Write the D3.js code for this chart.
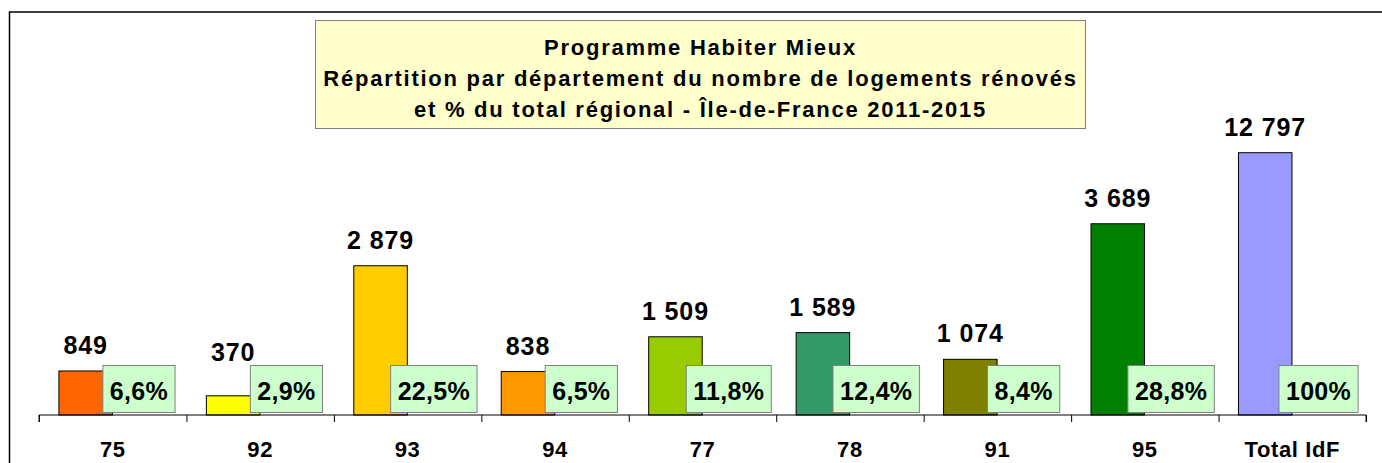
<!DOCTYPE html>
<html>
<head>
<meta charset="utf-8">
<script src="https://cdn.jsdelivr.net/npm/d3@7"></script>
<style>
  body { margin: 0; background: #fff; }
  svg { display: block; font-family: "Liberation Sans", Arial, sans-serif; font-weight: bold; }
</style>
</head>
<body>
<div id="chart"></div>
<script>

/* Data */
/* ---- */

var categories = ['75', '92', '93', '94', '77', '78', '91', '95', 'Total IdF'];
var logements = [849, 370, 2879, 838, 1509, 1589, 1074, 3689, 12797];
var pctLabels = ['6,6%', '2,9%', '22,5%', '6,5%', '11,8%', '12,4%', '8,4%', '28,8%', '100%'];
var barColours = ['#FF6600', '#FFFF00', '#FFCC00', '#FF9900', '#99CC00', '#339966', '#808000', '#008000', '#9999FF'];
var titleLines = [
  'Programme Habiter Mieux',
  'Répartition par département du nombre de logements rénovés',
  'et % du total régional - Île-de-France 2011-2015'
];

var data = categories.map(function(c, i) {
  return { cat: c, value: logements[i], pct: pctLabels[i], colour: barColours[i] };
});

/* Setup */
/* ----- */

var width = 1382, height = 463;
var plot = { left: 39, right: 1366, top: 152.7, bottom: 415 };
var box = { top: 365.5, height: 47 };

var fr = d3.formatLocale({ decimal: ',', thousands: '\u00a0', grouping: [3], currency: ['', ' €'] });
var fmt = fr.format(',d');

var svg = d3.select('#chart').append('svg')
    .attr('width', width)
    .attr('height', height);

// outer chart border (right / bottom edges are off the picture)
svg.append('rect')
    .attr('x', 9.5).attr('y', 12)
    .attr('width', 1400).attr('height', 500)
    .attr('fill', 'none')
    .attr('stroke', '#000')
    .attr('stroke-width', 1.5);

var x = d3.scaleBand().domain(categories).range([plot.left, plot.right]);
var y = d3.scaleLinear().domain([0, 5060]).range([plot.bottom, plot.top]).clamp(true);
var bw = x.bandwidth();

/* Bars */
/* ---- */

svg.append('g').attr('class', 'bars')
  .selectAll('rect')
  .data(data)
  .enter().append('rect')
    .attr('x', function(d) { return x(d.cat) + bw * 0.135; })
    .attr('y', function(d) { return y(d.value); })
    .attr('width', bw * 0.363)
    .attr('height', function(d) { return plot.bottom - y(d.value); })
    .attr('fill', function(d) { return d.colour; })
    .attr('stroke', '#000')
    .attr('stroke-width', 1);

// value labels (kept clear of the percent boxes)
svg.append('g').attr('class', 'values')
  .selectAll('text')
  .data(data)
  .enter().append('text')
    .attr('x', function(d) { return x(d.cat) + bw * 0.135 + bw * 0.363 / 2; })
    .attr('y', function(d) { return Math.min(y(d.value) - 17, box.top - 4.5); })
    .attr('text-anchor', 'middle')
    .style('font-size', '25px')
    .style('letter-spacing', '0.9px')
    .text(function(d) { return fmt(d.value); });

/* Axis */
/* ---- */

var boundary = d3.scaleLinear().domain([0, categories.length]).range([plot.left, plot.right]);

var axisG = svg.append('g')
    .attr('transform', 'translate(0,' + plot.bottom + ')')
    .call(d3.axisBottom(boundary).ticks(categories.length).tickSize(7).tickFormat(''));
axisG.select('.domain').attr('stroke', '#000').attr('d', 'M' + plot.left + ',7V0H' + plot.right + 'V7');
axisG.selectAll('.tick line').attr('stroke', '#000');

var labG = svg.append('g')
    .attr('transform', 'translate(0,' + plot.bottom + ')')
    .call(d3.axisBottom(x).tickSize(0));
labG.select('.domain').remove();
labG.selectAll('.tick text')
    .attr('y', 42.3)
    .attr('dy', null)
    .attr('fill', '#000')
    .style('font-family', '"Liberation Sans", Arial, sans-serif')
    .style('font-weight', 'bold')
    .style('font-size', '22px')
    .style('letter-spacing', '0.6px');

/* Percent boxes */
/* ------------- */

var pctG = svg.append('g').attr('class', 'pct')
  .selectAll('g')
  .data(data)
  .enter().append('g')
    .attr('transform', function(d) { return 'translate(' + (x(d.cat) + bw * 0.678) + ',0)'; });

var pctRect = pctG.append('rect')
    .attr('y', box.top)
    .attr('height', box.height)
    .attr('fill', '#CCFFCC')
    .attr('stroke', '#808080')
    .attr('stroke-width', 1);

var pctText = pctG.append('text')
    .attr('y', 400)
    .attr('text-anchor', 'middle')
    .style('font-size', '25px')
    .style('letter-spacing', '0.3px')
    .text(function(d) { return d.pct; });

pctText.each(function(d) { d.tw = this.getComputedTextLength(); });
pctRect
    .attr('x', function(d) { return -(d.tw + 14) / 2; })
    .attr('width', function(d) { return d.tw + 14; });

/* Title */
/* ----- */

svg.append('rect')
    .attr('x', 315.5).attr('y', 20.5)
    .attr('width', 770).attr('height', 108)
    .attr('fill', '#FFFFCC')
    .attr('stroke', '#808080')
    .attr('stroke-width', 1);

svg.append('g').attr('class', 'title')
  .selectAll('text')
  .data(titleLines)
  .enter().append('text')
    .attr('x', 700.5)
    .attr('y', function(d, i) { return 55 + i * 31; })
    .attr('text-anchor', 'middle')
    .style('font-size', '22px')
    .style('letter-spacing', '1.75px')
    .text(function(d) { return d; });

</script>
</body>
</html>
